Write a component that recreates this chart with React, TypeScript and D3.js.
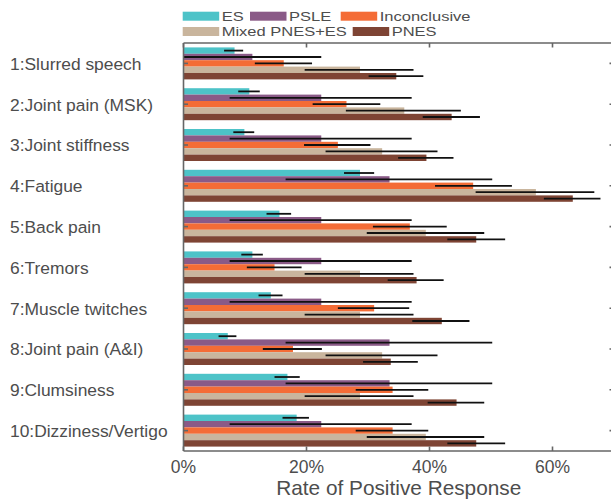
import React from 'react';
import * as d3 from 'd3';

const categories = [
  '1:Slurred speech',
  '2:Joint pain (MSK)',
  '3:Joint stiffness',
  '4:Fatigue',
  '5:Back pain',
  '6:Tremors',
  '7:Muscle twitches',
  '8:Joint pain (A&I)',
  '9:Clumsiness',
  '10:Dizziness/Vertigo',
];

const seriesNames = ['ES', 'PSLE', 'Inconclusive', 'Mixed PNES+ES', 'PNES'];
const seriesColors = ['#4dc3c8', '#8a5a87', '#f46c36', '#c9b59d', '#7e4434'];

// rates in %, with lower / upper error bounds
const es = [8.3, 10.7, 9.9, 28.7, 15.6, 11.2, 14.2, 7.2, 16.9, 18.4];
const esLo = [6.6, 8.9, 8.1, 26.1, 13.5, 9.4, 12.2, 5.7, 14.8, 16.1];
const esHi = [9.7, 12.4, 11.5, 31.0, 17.5, 12.9, 16.1, 8.6, 18.9, 20.4];

const psle = [11.2, 22.4, 22.4, 33.5, 22.4, 22.4, 22.4, 33.5, 33.5, 22.4];
const psleLo = [0, 7.5, 7.5, 16.6, 7.5, 7.5, 7.5, 16.6, 16.6, 7.5];
const psleHi = [22.4, 37.1, 37.1, 50.2, 37.1, 37.1, 37.1, 50.2, 50.2, 37.1];

const inconclusive = [16.3, 26.5, 25.1, 47.1, 36.8, 14.8, 31.0, 17.8, 34.0, 34.0];
const inconclusiveLo = [11.6, 21.0, 19.6, 40.9, 30.8, 10.3, 25.1, 12.9, 28.0, 28.0];
const inconclusiveHi = [20.9, 32.0, 30.4, 53.4, 42.8, 19.2, 36.7, 22.5, 39.8, 39.8];

const mixed = [28.7, 35.9, 32.3, 57.3, 39.4, 28.7, 28.7, 32.3, 28.7, 39.4];
const mixedLo = [19.7, 26.4, 23.1, 47.5, 29.8, 19.7, 19.7, 23.1, 19.7, 29.8];
const mixedHi = [37.4, 45.1, 41.3, 66.8, 48.9, 37.4, 37.4, 41.3, 37.4, 48.9];

const pnes = [34.6, 43.6, 39.5, 63.3, 47.6, 37.9, 42.0, 33.7, 44.4, 47.6];
const pnesLo = [30.1, 38.9, 34.9, 58.6, 42.9, 33.2, 37.2, 29.2, 39.7, 42.9];
const pnesHi = [39.0, 48.2, 43.9, 67.8, 52.3, 42.3, 46.5, 38.1, 48.9, 52.3];

const xTicks = [0, 20, 40, 60];

const values = [es, psle, inconclusive, mixed, pnes];
const lows = [esLo, psleLo, inconclusiveLo, mixedLo, pnesLo];
const highs = [esHi, psleHi, inconclusiveHi, mixedHi, pnesHi];

const width = 611;
const height = 500;
const margin = { top: 43, right: -3, bottom: 49, left: 183.5 };
const font = '"Liberation Sans", Arial, Helvetica, sans-serif';
const textColor = '#4d4d4d';
const axisColor = '#666';

// legend rows (box x) — MATLAB-style two-row legend
const legendLayout = [
  { row: 0, x: 182.7 },
  { row: 0, x: 250 },
  { row: 0, x: 340.7 },
  { row: 1, x: 182.7 },
  { row: 1, x: 352.7 },
];

const App = () => {
  const x = d3.scaleLinear()
    .domain([0, 70])
    .range([margin.left, width - margin.right]);

  const y = d3.scaleBand()
    .domain(categories)
    .range([margin.top, height - margin.bottom])
    .paddingInner(0.216)
    .paddingOuter(0.108);

  const inner = d3.scaleBand()
    .domain(seriesNames)
    .range([0, y.bandwidth()])
    .padding(0);

  const x0 = x(0);
  const x1 = x(70);
  const yTop = margin.top;
  const yBot = height - margin.bottom;
  const tickLen = 4.5;

  return (
    <svg width={width} height={height} style={{ position: 'absolute', left: 0, top: 0, background: '#fff' }}>
      {/* bars */}
      {categories.map((cat, ci) => (
        <g key={cat} transform={`translate(0,${y(cat)})`}>
          {seriesNames.map((s, si) => (
            <rect
              key={s}
              x={x0}
              y={inner(s)}
              width={x(values[si][ci]) - x0}
              height={inner.bandwidth()}
              fill={seriesColors[si]}
            />
          ))}
          {seriesNames.map((s, si) => (
            <line
              key={s + '-err'}
              x1={x(lows[si][ci])}
              x2={x(highs[si][ci])}
              y1={inner(s) + inner.bandwidth() / 2}
              y2={inner(s) + inner.bandwidth() / 2}
              stroke="#111"
              strokeWidth={1.8}
            />
          ))}
        </g>
      ))}

      {/* axes box */}
      <g stroke={axisColor} strokeWidth={1.6} fill="none">
        <line x1={x0} x2={x1} y1={yTop} y2={yTop} />
        <line x1={x0} x2={x1} y1={yBot} y2={yBot} />
        <line x1={x0} x2={x0} y1={yTop} y2={yBot} />
        <line x1={x1} x2={x1} y1={yTop} y2={yBot} />
        {xTicks.map((t) => (
          <g key={t}>
            <line x1={x(t)} x2={x(t)} y1={yBot} y2={yBot - tickLen} />
            <line x1={x(t)} x2={x(t)} y1={yTop} y2={yTop + tickLen} />
          </g>
        ))}
        {categories.map((cat) => {
          const cy = y(cat) + y.bandwidth() / 2;
          return (
            <g key={cat}>
              <line x1={x0} x2={x0 + tickLen} y1={cy} y2={cy} />
              <line x1={x1} x2={x1 - tickLen} y1={cy} y2={cy} />
            </g>
          );
        })}
      </g>

      {/* x tick labels */}
      {xTicks.map((t) => (
        <text
          key={t}
          x={x(t)}
          y={473}
          textAnchor="middle"
          fontFamily={font}
          fontSize={17.5}
          fill={textColor}
        >
          {t}%
        </text>
      ))}

      <text
        x={(x0 + x1) / 2}
        y={495}
        textAnchor="middle"
        fontFamily={font}
        fontSize={20.8}
        fill={textColor}
      >
        Rate of Positive Response
      </text>

      {/* category labels */}
      {categories.map((cat) => (
        <text
          key={cat}
          x={10}
          y={y(cat) + y.bandwidth() / 2 + 6.3}
          fontFamily={font}
          fontSize={17.4}
          fill={textColor}
        >
          {cat}
        </text>
      ))}

      {/* legend */}
      {seriesNames.map((s, i) => {
        const { row, x: lx } = legendLayout[i];
        const top = 11.7 + row * 15.3;
        return (
          <g key={s}>
            <rect x={lx} y={top} width={36.5} height={9} fill={seriesColors[i]} />
            <text
              transform={`translate(${lx + 39},${top + 9.3}) scale(1.1,0.88)`}
              fontFamily={font}
              fontSize={15}
              fill={textColor}
            >
              {s}
            </text>
          </g>
        );
      })}
    </svg>
  );
};

export default App;
